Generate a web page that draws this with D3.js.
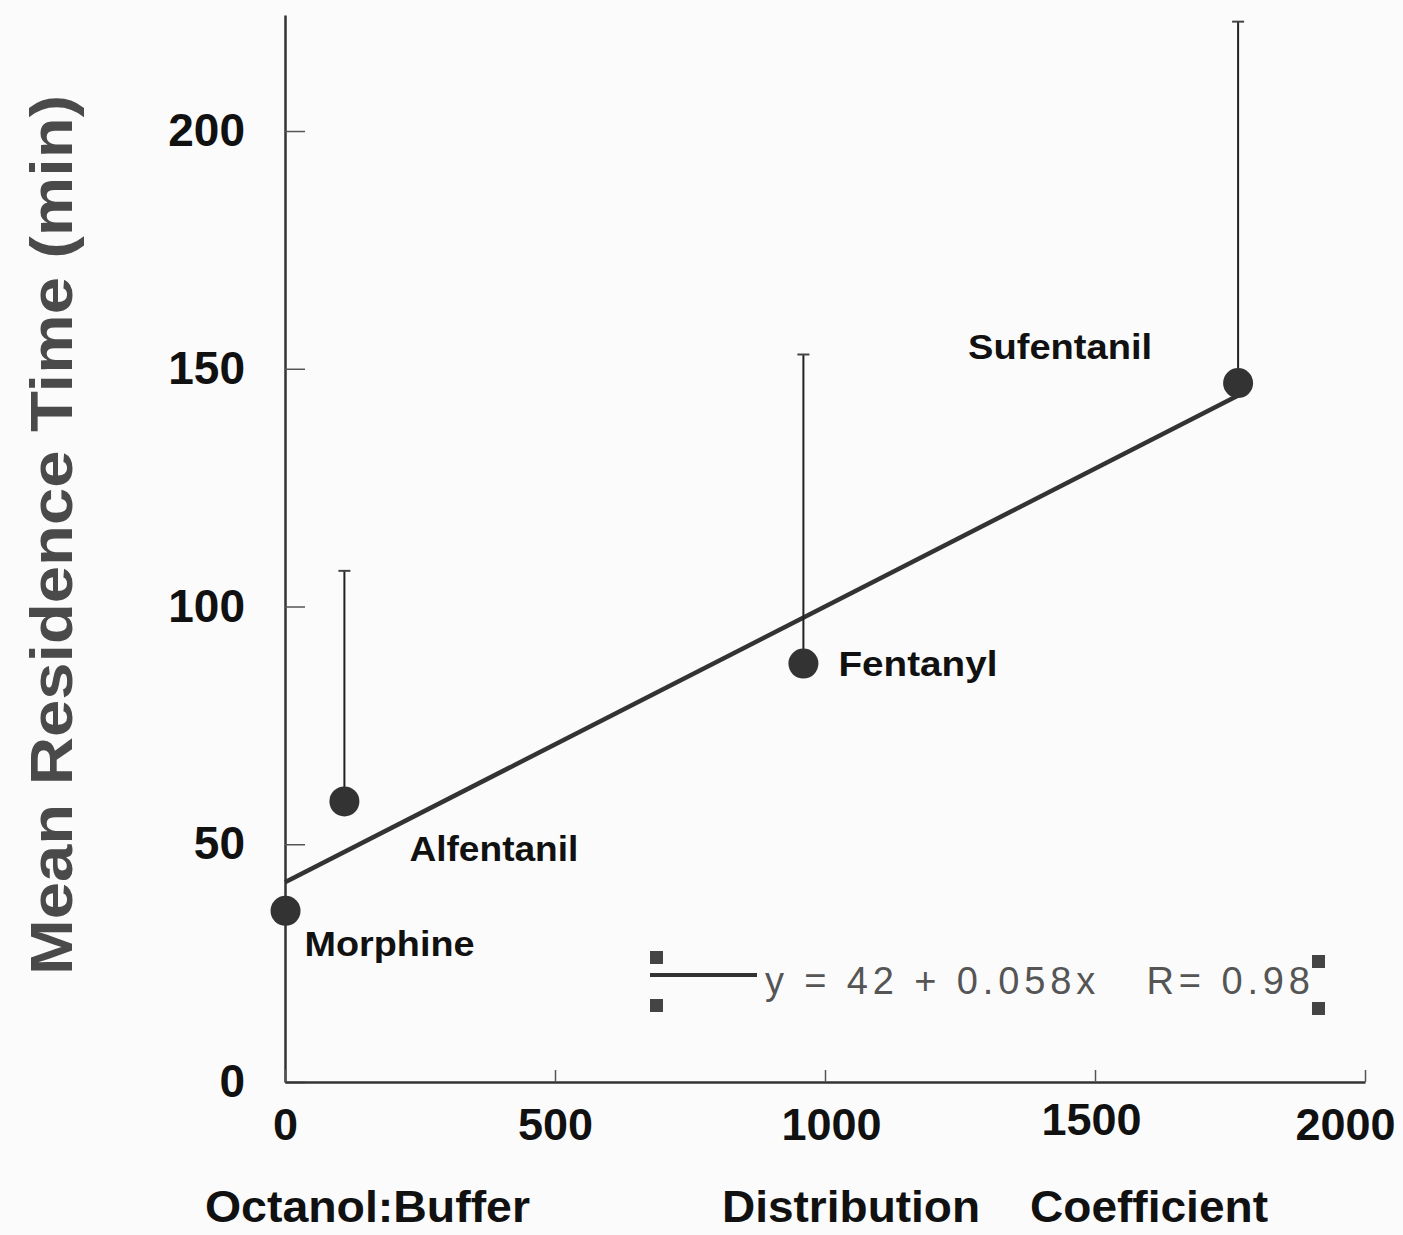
<!DOCTYPE html>
<html>
<head>
<meta charset="utf-8">
<script src="https://cdn.jsdelivr.net/npm/d3@7"></script>
<style>
  body { margin: 0; background: #fbfbfb; }
  svg { display: block; }
  text { font-family: "Liberation Sans", Arial, sans-serif; }
</style>
</head>
<body>
<div id="chart"></div>
<script>
// data
const drugs = ["Morphine", "Alfentanil", "Fentanyl", "Sufentanil"];
const coef = [1, 110, 960, 1765];          // octanol:buffer distribution coefficient
const mrt = [36, 59, 88, 147];             // mean residence time (min)
const mrtUpper = [null, 107.5, 153, 223];  // top of error bar
const xTicks = [0, 500, 1000, 1500, 2000];
const yTicks = [0, 50, 100, 150, 200];
const fitA = 42, fitB = 0.058;             // y = 42 + 0.058x

// label offsets from each point (px) and label widths
const labelDx = [19, 65, 35, -270];
const labelDy = [45, 60, 12, -24];
const labelLen = [170, 169, 159, 184];

const W = 1403, H = 1235;
const svg = d3.select("#chart").append("svg")
  .attr("width", W).attr("height", H);

svg.append("rect").attr("width", W).attr("height", H).attr("fill", "#fbfbfb");

const x = d3.scaleLinear().domain([0, 2000]).range([285, 1365]);
const y = d3.scaleLinear().domain([0, 224.4]).range([1082, 15]);

// y axis
const yAxis = svg.append("g")
  .attr("transform", "translate(285,0)")
  .call(d3.axisLeft(y).tickValues(yTicks).tickFormat(d3.format("d"))
    .tickSize(-20).tickPadding(40).tickSizeOuter(0));
yAxis.select(".domain").attr("stroke", "#333").attr("stroke-width", 2.5);
yAxis.selectAll(".tick line").attr("stroke", "#555").attr("stroke-width", 1.5);
yAxis.selectAll(".tick text")
  .attr("font-size", 46).attr("font-weight", "bold").attr("fill", "#111")
  .attr("font-family", "Liberation Sans, Arial, sans-serif");

// x axis
const xAxis = svg.append("g")
  .attr("transform", "translate(0,1082)")
  .call(d3.axisBottom(x).tickValues(xTicks).tickFormat(d3.format("d"))
    .tickSize(-12).tickPadding(26).tickSizeOuter(0));
xAxis.select(".domain").attr("stroke", "#333").attr("stroke-width", 2.5);
xAxis.selectAll(".tick line").attr("stroke", "#555").attr("stroke-width", 1.5);
xAxis.selectAll(".tick text")
  .attr("font-size", 45).attr("font-weight", "bold").attr("fill", "#111")
  .attr("font-family", "Liberation Sans, Arial, sans-serif")
  .attr("dx", d => d === 2000 ? -20 : (d === 1000 ? 6 : (d === 1500 ? -4 : 0)))
  .attr("dy", d => d === 1500 ? "0.6em" : "0.71em");

// axis titles
svg.append("text")
  .attr("transform", "translate(72,535) rotate(-90)")
  .attr("text-anchor", "middle")
  .attr("font-size", 60).attr("font-weight", "bold").attr("fill", "#4a4a4a")
  .attr("textLength", 880).attr("lengthAdjust", "spacingAndGlyphs")
  .text("Mean Residence Time (min)");

const xTitle = [["Octanol:Buffer", 205, 325], ["Distribution", 722, 258], ["Coefficient", 1030, 238]];
svg.selectAll(".xtitle").data(xTitle).enter().append("text")
  .attr("class", "xtitle")
  .attr("x", d => d[1]).attr("y", 1222)
  .attr("font-size", 44).attr("font-weight", "bold").attr("fill", "#111")
  .attr("textLength", d => d[2]).attr("lengthAdjust", "spacingAndGlyphs")
  .text(d => d[0]);

// regression line
const fitX = [0, d3.max(coef)];
svg.append("line")
  .attr("x1", x(fitX[0])).attr("y1", y(fitA + fitB * fitX[0]))
  .attr("x2", x(fitX[1])).attr("y2", y(fitA + fitB * fitX[1]))
  .attr("stroke", "#333").attr("stroke-width", 4.5);

const pts = drugs.map((d, i) => ({ name: d, x: coef[i], y: mrt[i], up: mrtUpper[i],
  dx: labelDx[i], dy: labelDy[i], len: labelLen[i] }));

// error bars (upper only)
const eb = svg.selectAll(".eb").data(pts.filter(d => d.up !== null)).enter().append("g");
eb.append("line")
  .attr("x1", d => x(d.x)).attr("x2", d => x(d.x))
  .attr("y1", d => y(d.y)).attr("y2", d => y(d.up))
  .attr("stroke", "#222").attr("stroke-width", 2);
eb.append("line")
  .attr("x1", d => x(d.x) - 6).attr("x2", d => x(d.x) + 6)
  .attr("y1", d => y(d.up)).attr("y2", d => y(d.up))
  .attr("stroke", "#444").attr("stroke-width", 2);

// points
svg.selectAll(".pt").data(pts).enter().append("circle")
  .attr("cx", d => x(d.x)).attr("cy", d => y(d.y)).attr("r", 15)
  .attr("fill", "#333");

// point labels
svg.selectAll(".lbl").data(pts).enter().append("text")
  .attr("x", d => x(d.x) + d.dx).attr("y", d => y(d.y) + d.dy)
  .attr("font-size", 35).attr("font-weight", "bold").attr("fill", "#111")
  .attr("textLength", d => d.len).attr("lengthAdjust", "spacingAndGlyphs")
  .text(d => d.name);

// legend
const lg = svg.append("g");
lg.selectAll("rect").data([[650, 951], [650, 999], [1312, 955], [1312, 1002]]).enter().append("rect")
  .attr("x", d => d[0]).attr("y", d => d[1]).attr("width", 13).attr("height", 13)
  .attr("fill", "#444");
lg.append("line").attr("x1", 650).attr("x2", 757).attr("y1", 975).attr("y2", 975)
  .attr("stroke", "#333").attr("stroke-width", 4);
lg.append("text")
  .attr("x", 765).attr("y", 994)
  .attr("font-size", 38).attr("fill", "#555")
  .attr("textLength", 545).attr("lengthAdjust", "spacing")
  .attr("xml:space", "preserve")
  .text("y = 42 + 0.058x   R= 0.98");
</script>
</body>
</html>
